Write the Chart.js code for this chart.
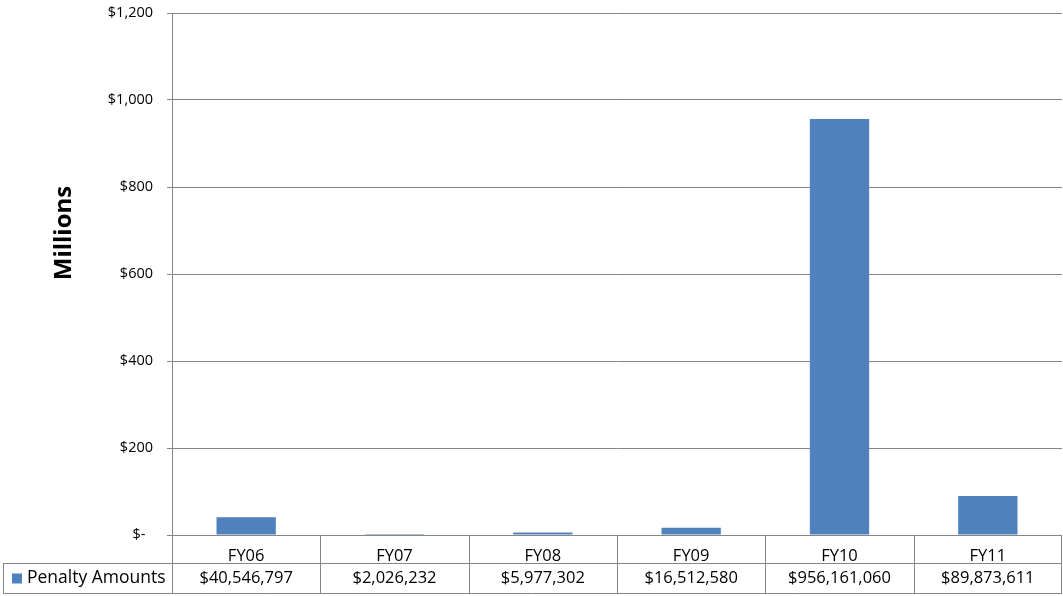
<!DOCTYPE html>
<html>
<head>
<meta charset="utf-8">
<script src="https://cdn.jsdelivr.net/npm/chart.js@4"></script>
<style>
  body { margin: 0; background: #fff; }
  #wrap { width: 1063px; height: 596px; }
</style>
</head>
<body>
<div id="wrap"><canvas id="canvas"></canvas></div>
<script>
const years = ['FY06', 'FY07', 'FY08', 'FY09', 'FY10', 'FY11'];
const penaltyAmounts = [40546797, 2026232, 5977302, 16512580, 956161060, 89873611];
const seriesName = 'Penalty Amounts';
const yTicks = [0, 200, 400, 600, 800, 1000, 1200];

const barColor = '#4F81BD';
const lineColor = '#868686';
const fontFamily = "'Open Sans', 'Liberation Sans', sans-serif";

// table under the plot, like excel's data table
const dataTable = {
  id: 'dataTable',
  afterDraw(chart) {
    const ctx = chart.ctx;
    const x = chart.scales.x;
    const area = chart.chartArea;
    const row1Bottom = area.bottom + 28;
    const row2Bottom = row1Bottom + 31;
    const left = 3;

    ctx.save();
    ctx.strokeStyle = lineColor;
    ctx.lineWidth = 1;
    ctx.beginPath();
    // column separators
    for (let i = 1; i < years.length; i++) {
      const bx = Math.round((x.getPixelForValue(i - 1) + x.getPixelForValue(i)) / 2) + 0.5;
      ctx.moveTo(bx, area.bottom);
      ctx.lineTo(bx, row2Bottom);
    }
    ctx.moveTo(Math.round(area.left) + 0.5, area.bottom);
    ctx.lineTo(Math.round(area.left) + 0.5, row2Bottom);
    ctx.moveTo(Math.round(area.right) - 0.5, area.bottom);
    ctx.lineTo(Math.round(area.right) - 0.5, row2Bottom);
    // row lines
    ctx.moveTo(left, row1Bottom + 0.5);
    ctx.lineTo(area.right, row1Bottom + 0.5);
    ctx.moveTo(left, row2Bottom - 0.5);
    ctx.lineTo(area.right, row2Bottom - 0.5);
    ctx.moveTo(left + 0.5, row1Bottom);
    ctx.lineTo(left + 0.5, row2Bottom);
    ctx.stroke();

    // values row
    const midY = (row1Bottom + row2Bottom) / 2;
    ctx.fillStyle = '#000';
    ctx.font = '16.5px ' + fontFamily;
    ctx.textBaseline = 'middle';
    ctx.textAlign = 'center';
    penaltyAmounts.forEach((v, i) => {
      ctx.fillText('$' + v.toLocaleString('en-US'), x.getPixelForValue(i), midY);
    });

    // legend key
    ctx.fillStyle = barColor;
    ctx.fillRect(12, midY - 5, 10, 10);
    ctx.fillStyle = '#000';
    ctx.textAlign = 'left';
    ctx.font = '17.5px ' + fontFamily;
    ctx.fillText(seriesName, 27, midY);

    // axis title
    ctx.font = 'bold 24px ' + fontFamily;
    ctx.translate(64, 233);
    ctx.rotate(-Math.PI / 2);
    ctx.textAlign = 'center';
    ctx.fillText('Millions', 0, 0);
    ctx.restore();
  }
};

const config = {
  type: 'bar',
  data: {
    labels: years,
    datasets: [{
      label: seriesName,
      data: penaltyAmounts.map(v => v / 1e6),
      backgroundColor: barColor,
      barPercentage: 0.4,
      categoryPercentage: 1
    }]
  },
  options: {
    responsive: true,
    maintainAspectRatio: false,
    animation: false,
    layout: { padding: { top: 13, right: 1, bottom: 33, left: 0 } },
    plugins: {
      legend: { display: false },
      tooltip: { enabled: false }
    },
    scales: {
      x: {
        grid: { display: false },
        border: { display: false },
        ticks: { color: '#000', font: { family: fontFamily, size: 16.5 }, padding: 3, maxRotation: 0 },
        afterFit(scale) { scale.height = 28; }
      },
      y: {
        min: 0,
        max: 1200,
        grid: { color: lineColor, tickLength: 5 },
        border: { color: lineColor },
        afterBuildTicks(scale) { scale.ticks = yTicks.map(v => ({ value: v })); },
        ticks: {
          color: '#000',
          padding: 14,
          font: { family: fontFamily, size: 14.5 },
          callback: v => v === 0 ? '$-  ' : '$' + v.toLocaleString('en-US')
        },
        afterFit(scale) {
          scale.width = 172;
          scale.paddingTop = 0;
          scale.paddingBottom = 0;
        }
      }
    }
  },
  plugins: [dataTable]
};

const canvas = document.getElementById('canvas');
const chart = new Chart(canvas, config);
</script>
</body>
</html>
